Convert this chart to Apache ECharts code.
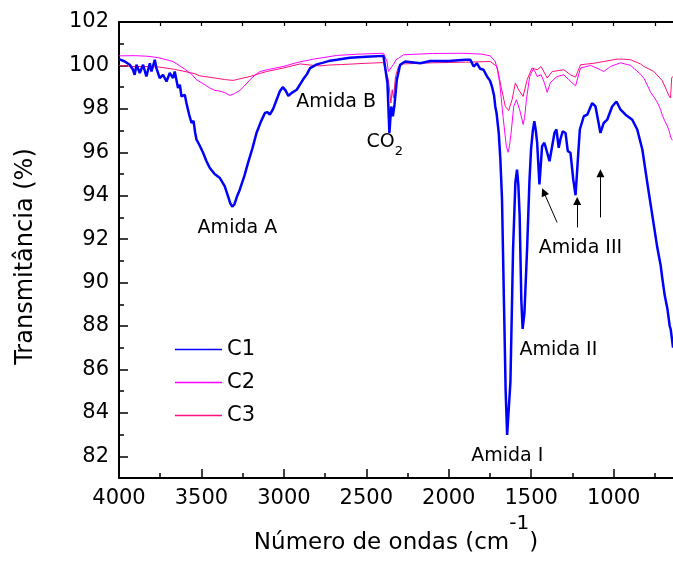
<!DOCTYPE html>
<html><head><meta charset="utf-8">
<script src="https://cdn.jsdelivr.net/npm/echarts@6/dist/echarts.min.js"></script>
<style>html,body{margin:0;padding:0;background:#fff}#c{width:673px;height:575px}</style>
</head><body><div id="c"></div><script>
// ---- data ----
const seriesNames = ['C1', 'C2', 'C3'];

const c1Wave = [4000,3965,3935,3915,3905,3894,3874,3854,3834,3813,3803,3783,3773,3753,3733,3712,3692,3672,3662,3642,3631,3621,3601,3591,3575,3560,3548,3538,3530,3510,3490,3470,3450,3420,3390,3359,3340,3325,3313,3300,3285,3267,3240,3217,3190,3166,3140,3115,3100,3085,3065,3044,3025,3007,2990,2973,2950,2922,2900,2882,2860,2841,2800,2761,2720,2679,2600,2500,2396,2386,2372,2360,2349,2339,2329,2315,2295,2264,2173,2112,2000,1900,1869,1849,1830,1810,1789,1768,1750,1738,1725,1718,1710,1697,1687,1677,1665,1655,1646,1636,1626,1610,1596,1586,1578,1570,1560,1552,1541,1525,1511,1501,1490,1481,1472,1464,1450,1434,1420,1403,1389,1373,1359,1347,1333,1323,1309,1292,1278,1262,1245,1231,1217,1205,1181,1160,1130,1110,1080,1060,1039,1009,983,958,928,887,857,826,796,765,735,715,705,690,674,660,654,648,640];
const c1Trans = [100.29,100.18,100.03,99.80,99.57,100.03,99.65,100.03,99.49,100.10,99.72,100.26,99.88,99.42,99.57,99.26,99.65,99.42,99.72,98.96,99.11,98.57,98.65,98.27,97.75,97.35,97.45,96.90,96.59,96.30,95.98,95.60,95.29,95.00,94.83,94.44,94.00,93.65,93.50,93.60,93.95,94.29,94.90,95.52,96.20,96.89,97.40,97.81,97.85,97.73,98.00,98.42,98.80,99.00,98.85,98.60,98.75,98.88,99.15,99.37,99.60,99.88,100.05,100.13,100.22,100.26,100.35,100.40,100.44,100.41,99.19,96.89,98.11,97.66,98.19,99.34,100.03,100.18,100.10,100.20,100.20,100.26,100.26,99.95,100.10,99.85,99.80,99.49,99.30,99.03,98.60,98.11,97.80,96.89,95.67,93.83,89.00,85.00,82.98,84.20,85.42,91.54,94.60,95.20,94.50,93.07,89.20,87.87,88.60,91.54,94.60,96.13,97.00,97.43,97.00,96.44,94.52,96.28,96.44,95.98,95.59,96.28,96.89,97.05,96.21,96.59,96.97,96.89,96.05,95.98,94.75,94.02,95.67,97.05,97.66,97.73,98.27,98.11,96.89,97.35,97.50,98.11,98.34,97.96,97.73,97.50,97.05,96.13,94.60,93.07,91.60,90.80,90.20,89.40,88.80,88.00,87.85,87.50,87.00];

const c2Wave = [4000,3900,3824,3763,3692,3672,3611,3560,3530,3479,3449,3418,3388,3360,3327,3300,3267,3240,3206,3175,3145,3085,3004,2922,2821,2679,2550,2396,2385,2375,2366,2360,2345,2335,2320,2305,2274,2100,1910,1800,1748,1718,1705,1691,1671,1651,1640,1632,1622,1606,1590,1570,1549,1540,1529,1509,1488,1476,1464,1440,1420,1403,1383,1343,1302,1272,1231,1201,1140,1080,1060,1019,958,897,837,816,790,775,756,735,715,705,690,674,664,654,644];
const c2Trans = [100.44,100.45,100.42,100.36,100.22,100.18,99.88,99.60,99.34,99.11,98.96,98.85,98.82,98.75,98.62,98.70,98.85,99.05,99.34,99.55,99.72,99.83,99.95,100.13,100.29,100.46,100.52,100.56,100.52,100.20,99.72,99.75,99.95,100.05,100.26,100.33,100.49,100.55,100.56,100.52,100.44,100.18,99.80,99.19,97.66,96.28,96.00,96.30,96.89,98.11,98.42,97.96,97.28,97.60,98.42,99.49,99.83,99.70,99.49,99.57,99.20,98.76,99.22,99.49,99.57,99.34,99.06,99.88,100.00,99.80,99.72,99.95,100.12,100.00,99.60,99.40,99.00,98.75,98.55,98.30,97.96,97.70,97.45,97.20,97.00,96.70,96.55];

const c3Wave = [4000,3915,3824,3753,3662,3540,3510,3418,3360,3307,3270,3206,3150,3104,3004,2902,2831,2781,2720,2650,2500,2396,2385,2366,2351,2343,2335,2323,2305,2274,2100,1900,1748,1707,1683,1657,1637,1616,1596,1576,1549,1525,1495,1464,1440,1403,1373,1302,1262,1231,1201,1120,1060,979,938,897,837,816,756,705,695,664,655,648,640];
const c3Trans = [100.00,99.95,99.95,99.92,99.82,99.62,99.52,99.42,99.35,99.31,99.38,99.49,99.62,99.72,99.88,100.07,100.01,99.98,100.02,100.04,100.10,100.13,100.10,99.34,98.27,98.88,98.50,99.49,99.95,100.07,100.12,100.15,100.18,99.95,99.03,98.11,97.92,98.42,99.19,98.88,98.57,99.34,99.88,99.80,99.95,99.42,99.72,99.80,99.57,99.46,100.03,100.10,100.18,100.29,100.29,100.26,100.07,99.95,99.72,99.30,99.34,98.60,98.50,99.42,99.50];

// annotations (data coordinates)
const annoText  = ['Amida A', 'Amida B', 'CO2', 'Amida I', 'Amida II', 'Amida III'];
const annoWave  = [3282, 2683, 2388, 1645, 1335, 1201];
const annoTrans = [92.51, 98.29, 96.48, 82.00, 86.88, 91.57];
// arrows: tail -> head
const arrowFromWave  = [1343, 1221, 1080];
const arrowFromTrans = [92.77, 92.54, 93.00];
const arrowToWave    = [1424, 1221, 1080];
const arrowToTrans   = [94.17, 93.76, 95.03];

// ticks
const xMajor = [4000, 3500, 3000, 2500, 2000, 1500, 1000];
const xMinor = [3750, 3250, 2750, 2250, 1750, 1250, 750];
const xTop   = [3750, 3500, 3250, 3000, 2750, 2500, 2250, 2000, 1750, 1500, 1250, 1000, 750];
const yMajor = [82, 84, 86, 88, 90, 92, 94, 96, 98, 100, 102];
const yMinor = [83, 85, 87, 89, 91, 93, 95, 97, 99, 101];

// ---- chart ----
const FONT = 'DejaVu Sans';
const colors = ['#0000ff', '#ff00ff', '#ff0f7b'];
const zip = (a, b) => a.map((v, i) => [v, b[i]]);
const XMIN = 640, XMAX = 4000, YMIN = 81, YMAX = 102;

const chart = echarts.init(document.getElementById('c'), null, {renderer: 'canvas'});

const baseX = {type: 'value', inverse: true, min: XMIN, max: XMAX, splitLine: {show: false}};
const baseY = {type: 'value', min: YMIN, max: YMAX, splitLine: {show: false}};

const option = {
  animation: false,
  backgroundColor: '#fff',
  grid: {left: 119, right: 0, top: 22, bottom: 97, containLabel: false},
  legend: {
    data: seriesNames, orient: 'vertical', left: 175, top: 339, padding: 0,
    icon: 'rect', itemWidth: 47, itemHeight: 1.6, itemGap: 12,
    textStyle: {fontFamily: FONT, fontSize: 21, color: '#000'}
  },
  xAxis: [
    Object.assign({}, baseX, {
      position: 'bottom',
      axisLine: {onZero: false, lineStyle: {color: '#000', width: 2}},
      axisTick: {inside: true, length: 9, customValues: xMajor, lineStyle: {color: '#000', width: 1.5}},
      axisLabel: {customValues: xMajor, formatter: v => String(v), fontFamily: FONT, fontSize: 21, color: '#000', margin: 10},
      name: '{a|Número de ondas (cm}{b|-1}{a|)}',
      nameLocation: 'middle', nameGap: 27,
      nameTextStyle: {
        rich: {
          a: {fontFamily: FONT, fontSize: 23, color: '#000', verticalAlign: 'middle'},
          b: {fontFamily: FONT, fontSize: 20, color: '#000', verticalAlign: 'middle', padding: [0, 0, 38, 0]}
        }
      }
    }),
    Object.assign({}, baseX, {
      position: 'bottom',
      axisLine: {show: false, onZero: false},
      axisTick: {inside: true, length: 5, customValues: xMinor, lineStyle: {color: '#000', width: 1.5}},
      axisLabel: {show: false}
    }),
    Object.assign({}, baseX, {
      position: 'top',
      axisLine: {onZero: false, lineStyle: {color: '#000', width: 2}},
      axisTick: {inside: true, length: 4, customValues: xTop, lineStyle: {color: '#000', width: 1.2}},
      axisLabel: {show: false}
    })
  ],
  yAxis: [
    Object.assign({}, baseY, {
      position: 'left',
      axisLine: {show: true, onZero: false, lineStyle: {color: '#000', width: 2}},
      axisTick: {show: true, inside: true, length: 9, customValues: yMajor, lineStyle: {color: '#000', width: 1.5}},
      axisLabel: {customValues: yMajor, fontFamily: FONT, fontSize: 21, color: '#000', margin: 10},
      name: 'Transmitância (%)', nameLocation: 'middle', nameGap: 81, nameRotate: 90,
      nameTextStyle: {fontFamily: FONT, fontSize: 24, color: '#000', padding: [0, 13, 0, 0]}
    }),
    Object.assign({}, baseY, {
      position: 'left',
      axisLine: {show: false, onZero: false},
      axisTick: {show: true, inside: true, length: 5, customValues: yMinor, lineStyle: {color: '#000', width: 1.5}},
      axisLabel: {show: false}
    })
  ],
  series: [
    {name: 'C3', type: 'line', data: zip(c3Wave, c3Trans), showSymbol: false, symbol: 'none', z: 2,
     lineStyle: {color: colors[2], width: 1}, itemStyle: {color: colors[2]}},
    {name: 'C2', type: 'line', data: zip(c2Wave, c2Trans), showSymbol: false, symbol: 'none', z: 2,
     lineStyle: {color: colors[1], width: 1}, itemStyle: {color: colors[1]}},
    {name: 'C1', type: 'line', data: zip(c1Wave, c1Trans), showSymbol: false, symbol: 'none', z: 3,
     lineStyle: {color: colors[0], width: 2.5}, itemStyle: {color: colors[0]}},
    {
      name: 'anno', type: 'scatter', symbolSize: 1, z: 5, silent: true,
      itemStyle: {color: '#fff', opacity: 0},
      data: zip(annoWave, annoTrans),
      label: {
        show: true, position: 'inside', color: '#000', opacity: 1, textBorderWidth: 0,
        formatter: p => annoText[p.dataIndex] === 'CO2' ? '{c|CO}{s|2}' : '{a|' + annoText[p.dataIndex] + '}',
        rich: {
          a: {fontFamily: FONT, fontSize: 19, color: '#000', textBorderWidth: 0},
          c: {fontFamily: FONT, fontSize: 19, color: '#000', verticalAlign: 'middle', textBorderWidth: 0},
          s: {fontFamily: FONT, fontSize: 13, color: '#000', verticalAlign: 'middle', padding: [20, 0, 0, 0], textBorderWidth: 0}
        }
      },
      markLine: {
        silent: true, animation: false,
        symbol: ['none', 'triangle'], symbolSize: 8,
        label: {show: false},
        itemStyle: {color: '#000'},
        lineStyle: {color: '#000', width: 1, type: 'solid', opacity: 1},
        emphasis: {disabled: true},
        data: arrowFromWave.map((w, i) => [
          {coord: [w, arrowFromTrans[i]]},
          {coord: [arrowToWave[i], arrowToTrans[i]]}
        ])
      }
    }
  ]
};
chart.setOption(option);
</script></body></html>
